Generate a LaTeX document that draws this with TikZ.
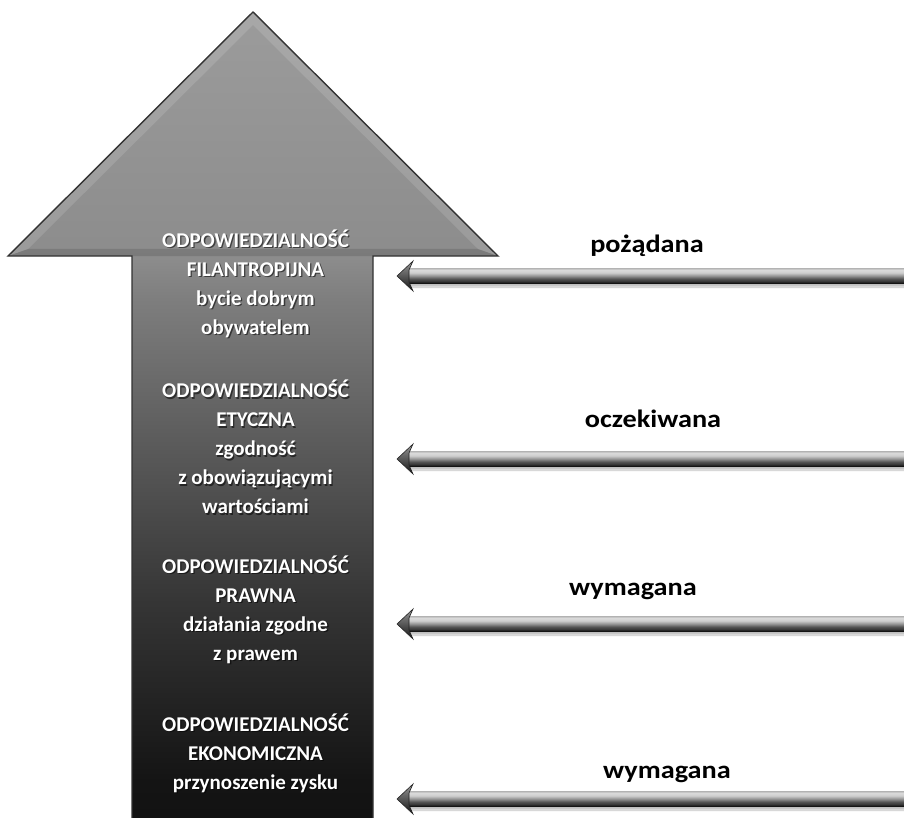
\documentclass[tikz,border=0pt]{standalone}
\usepackage{fontspec}
\setmainfont{Carlito}
\usetikzlibrary{calc,shadows.blur}

% vertical tone of the big upward arrow (light grey head, near black foot)
\pgfdeclareverticalshading{uparrowshade}{100bp}{
  rgb(0bp)=(0.07,0.07,0.07);
  rgb(25bp)=(0.07,0.07,0.07);
  rgb(27.4bp)=(0.08,0.08,0.08);
  rgb(38.5bp)=(0.21,0.21,0.21);
  rgb(47.8bp)=(0.35,0.35,0.35);
  rgb(57bp)=(0.49,0.49,0.49);
  rgb(59.8bp)=(0.55,0.55,0.55);
  rgb(75bp)=(0.61,0.61,0.61);
  rgb(100bp)=(0.61,0.61,0.61)}

% cylinder-like tone of the thin side arrows
\pgfdeclareverticalshading{sideshaftshade}{100bp}{
  rgb(0bp)=(0.08,0.08,0.08);
  rgb(25bp)=(0.08,0.08,0.08);
  rgb(31bp)=(0.22,0.22,0.22);
  rgb(39bp)=(0.33,0.33,0.33);
  rgb(49bp)=(0.58,0.58,0.58);
  rgb(59bp)=(0.80,0.80,0.80);
  rgb(68bp)=(0.86,0.86,0.86);
  rgb(75bp)=(0.70,0.70,0.70);
  rgb(100bp)=(0.70,0.70,0.70)}

\newcommand{\widelabel}[1]{\scalebox{1.13}[1]{#1}}

\tikzset{
  blocktext/.style={font=\bfseries\fontsize{21}{29}\selectfont, text=white,
    align=center, inner sep=0pt},
  blockglow/.style={blocktext, text=black, opacity=.55},
  sidelabel/.style={font=\bfseries\fontsize{25}{29}\selectfont, text=black,
    anchor=base, inner sep=0pt},
  shaftbar/.style={shading=sideshaftshade,
    blur shadow={shadow xshift=0pt, shadow yshift=-4pt,
      shadow blur steps=6, shadow opacity=25}},
  headtip/.style={top color=black!40, bottom color=black!92, draw=black!85,
    line width=.6pt, line join=miter},
}

\begin{document}
\begin{tikzpicture}[x=1pt, y=-1pt]
\useasboundingbox (0,0) rectangle (904,818);

% ---------------- big upward arrow ----------------
\coordinate (tip) at (253,12);
\coordinate (hr)  at (498,256);
\coordinate (hl)  at (8,256);
\coordinate (sr)  at (373,256);
\coordinate (sl)  at (132,256);
\coordinate (br)  at (373,818);
\coordinate (bl)  at (132,818);

\path[shading=uparrowshade]
  (tip) -- (hr) -- (sr) -- (br) -- (bl) -- (sl) -- (hl) -- cycle;
% bevel: light rim along the slanted edges, dark rim along the head base
\fill[white, opacity=.13]
  (tip) -- (hr) -- ($(hr)+(-20,-7)$) -- ($(tip)+(0,13)$) -- ($(hl)+(20,-7)$) -- (hl) -- cycle;
\fill[black, opacity=.12]
  (hl) -- ($(hl)+(20,-7)$) -- ($(hr)+(-20,-7)$) -- (hr) -- cycle;
\draw[black!80, line width=1.4pt, line join=miter]
  (bl) -- (sl) -- (hl) -- (tip) -- (hr) -- (sr) -- (br);

% ---------------- texts inside the arrow ----------------
\node[blockglow] at (256.8,285.3) {ODPOWIEDZIALNOŚĆ\\FILANTROPIJNA\\bycie dobrym\\obywatelem};
\node[blocktext] (phil) at (255.5,284) {ODPOWIEDZIALNOŚĆ\\FILANTROPIJNA\\bycie dobrym\\obywatelem};

\node[blockglow] at (256.8,448.3) {ODPOWIEDZIALNOŚĆ\\ETYCZNA\\zgodność\\z obowiązującymi\\wartościami};
\node[blocktext] (eth) at (255.5,447) {ODPOWIEDZIALNOŚĆ\\ETYCZNA\\zgodność\\z obowiązującymi\\wartościami};

\node[blockglow] at (256.8,611.3) {ODPOWIEDZIALNOŚĆ\\PRAWNA\\działania zgodne\\z prawem};
\node[blocktext] (law) at (255.5,610) {ODPOWIEDZIALNOŚĆ\\PRAWNA\\działania zgodne\\z prawem};

\node[blockglow] at (256.8,754.3) {ODPOWIEDZIALNOŚĆ\\EKONOMICZNA\\przynoszenie zysku};
\node[blocktext] (eco) at (255.5,753) {ODPOWIEDZIALNOŚĆ\\EKONOMICZNA\\przynoszenie zysku};

% ---------------- side arrows pointing at the big arrow ----------------
\foreach \nm/\cy in {aphil/276, aeth/459, alaw/624, aeco/799}{
  \coordinate (\nm-from) at (904,\cy);
  \coordinate (\nm-to)   at (397,\cy);
  \path[shaftbar] ($(\nm-to)+(12,-8)$) rectangle ($(\nm-from)+(2,7)$);
  \path[headtip]
    (\nm-to) -- ($(\nm-to)+(16,-15)$) -- ($(\nm-to)+(12,-6)$)
    -- ($(\nm-to)+(12,6)$) -- ($(\nm-to)+(16,15)$) -- cycle;
}

% ---------------- labels over the side arrows ----------------
\node[sidelabel] (lphil) at (647,253) {\widelabel{pożądana}};
\node[sidelabel] (leth)  at (653,427) {\widelabel{oczekiwana}};
\node[sidelabel] (llaw)  at (633,595) {\widelabel{wymagana}};
\node[sidelabel] (leco)  at (667,778) {\widelabel{wymagana}};
\end{tikzpicture}
\end{document}
